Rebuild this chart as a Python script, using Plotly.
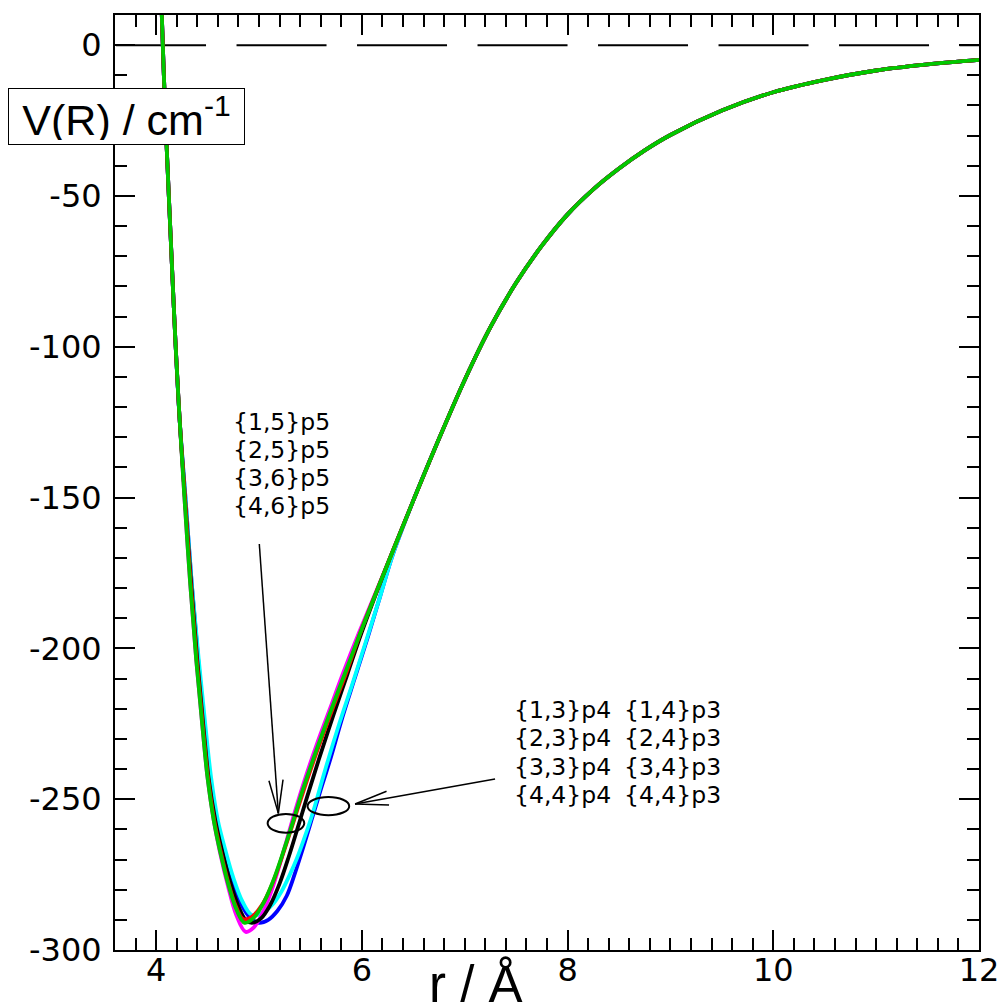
import math
import plotly.graph_objects as go

# ---------------- data ----------------
# shared repulsive wall (upper part) for all curves
WALL_X = [4.040, 4.055, 4.075, 4.100, 4.130, 4.160, 4.190, 4.230]
WALL_Y = [25, 10, -10, -32, -55, -78, -100, -125]

# shared long-range tail for all curves
TAIL_X = [6.5, 6.75, 7.0, 7.25, 7.5, 7.75, 8.0, 8.25, 8.5, 8.75, 9.0, 9.5,
          10.0, 10.5, 11.0, 11.5, 12.0]
TAIL_Y = [-151, -130.5, -111, -93.5, -78.8, -66.5, -56.1, -47.8, -40.9, -34.9, -29.8,
          -21.7, -15.6, -11.5, -8.4, -6.4, -4.9]

# well region, one pair of arrays per curve
BLUE_X = [4.285, 4.345, 4.41, 4.47, 4.525, 4.59, 4.66, 4.74, 4.83, 4.92, 5.00,
          5.09, 5.18, 5.27, 5.35, 5.43, 5.51, 5.59, 5.70, 5.81, 5.93, 6.06, 6.18, 6.30]
BLUE_Y = [-150, -178, -204, -226, -243, -257, -267, -277, -285, -289.5, -291,
          -290, -287, -282, -274.5, -266, -257, -248, -236, -223, -210, -196, -182.5, -169]

CYAN_X = [4.285, 4.345, 4.415, 4.48, 4.535, 4.60, 4.67, 4.75, 4.84, 4.93, 5.03,
          5.13, 5.22, 5.30, 5.37, 5.44, 5.50, 5.545, 5.65, 5.78, 5.92, 6.06, 6.18, 6.30]
CYAN_Y = [-150, -178, -204, -226, -243, -257, -266.5, -276, -284, -288.4, -287.8,
          -285, -280.5, -275, -269.5, -263, -257, -252, -239.5, -225, -210.5, -195.5, -182.5, -169]

MAGENTA_X = [4.275, 4.33, 4.39, 4.45, 4.50, 4.56, 4.62, 4.70, 4.78, 4.87, 4.95,
             5.03, 5.11, 5.19, 5.27, 5.35, 5.45, 5.56, 5.69, 5.82, 5.97, 6.25]
MAGENTA_Y = [-150, -178, -204, -226, -243, -257, -267.5, -279, -288.5, -294, -292.5,
             -288, -281.5, -273, -263.5, -254, -243, -232, -220, -208, -195, -172]

BLACK_X = [4.28, 4.34, 4.40, 4.46, 4.51, 4.575, 4.64, 4.72, 4.80, 4.87, 4.93,
           5.02, 5.11, 5.20, 5.29, 5.385, 5.47, 5.58, 5.72, 5.86, 6.00, 6.25]
BLACK_Y = [-150, -178, -204, -226, -243, -257, -267, -277.5, -285.5, -290, -291,
           -289.5, -285, -278, -269, -258.5, -249, -237, -222.5, -208.5, -194.5, -172]

RED_X = [4.28, 4.335, 4.395, 4.455, 4.505, 4.565, 4.625, 4.70, 4.775, 4.845, 4.93,
         5.03, 5.13, 5.24, 5.34, 5.44, 5.56, 5.71, 5.86, 6.00, 6.25]
RED_Y = [-150, -178, -204, -226, -243, -257, -267, -277.5, -285.5, -289.7, -289,
         -285, -278, -267.5, -257, -246.5, -234.5, -220.5, -207, -193.5, -172]

GREEN_X = [4.275, 4.33, 4.39, 4.45, 4.50, 4.56, 4.62, 4.70, 4.78, 4.86, 4.95,
           5.05, 5.15, 5.25, 5.33, 5.42, 5.545, 5.70, 5.85, 6.00, 6.25]
GREEN_Y = [-150, -178, -204, -226, -243, -257, -267, -278, -286.5, -291, -289.3,
           -284, -276, -266, -257.5, -247.5, -235, -220.5, -207, -193.5, -172]

ZERO_X = [3.61, 12.0]
ZERO_Y = [0, 0]

X_TICKS = [4, 6, 8, 10, 12]
Y_TICKS = [0, -50, -100, -150, -200, -250, -300]

LABELS_P5 = ["{1,5}p5", "{2,5}p5", "{3,6}p5", "{4,6}p5"]
LABELS_P4 = ["{1,3}p4", "{2,3}p4", "{3,3}p4", "{4,4}p4"]
LABELS_P3 = ["{1,4}p3", "{2,4}p3", "{3,4}p3", "{4,4}p3"]

# ---------------- figure ----------------
W, H = 1001, 1004
ML, MR, MT, MB = 115, 22, 15, 54
XR = [3.6, 12.0]
YR = [-300, 10]
PW = W - ML - MR
PH = H - MT - MB
SX = PW / (XR[1] - XR[0])
SY = PH / (YR[1] - YR[0])

fig = go.Figure()
fig.add_trace(go.Scatter(x=ZERO_X, y=ZERO_Y, mode="lines",
                         line=dict(color="black", width=2, dash="90px,30.5px"),
                         hoverinfo="skip", showlegend=False))

curves = [
    (BLUE_X, BLUE_Y, "#0000ff"),
    (CYAN_X, CYAN_Y, "#00ffff"),
    (MAGENTA_X, MAGENTA_Y, "#ff00ff"),
    (BLACK_X, BLACK_Y, "#000000"),
    (RED_X, RED_Y, "#ff0000"),
    (GREEN_X, GREEN_Y, "#00c800"),
]
for cx, cy, col in curves:
    fig.add_trace(go.Scatter(
        x=WALL_X + cx + TAIL_X, y=WALL_Y + cy + TAIL_Y, mode="lines",
        line=dict(color=col, width=3.8, shape="spline", smoothing=1.0),
        showlegend=False, hoverinfo="skip"))

# arrows (tail -> tip) and ellipses, in data units
ARROWS = [((5.003, -165.4), (5.188, -254.7)),
          ((7.295, -243.3), (5.934, -251.6))]
ELLIPSES = [(5.084, 5.440, -261.1, -254.9),
            (5.472, 5.877, -255.3, -249.3)]

shapes = []
for (tx, ty), (hx, hy) in ARROWS:
    shapes.append(dict(type="line", xref="x", yref="y", x0=tx, y0=ty, x1=hx, y1=hy,
                       line=dict(color="black", width=1.5)))
    dx = (tx - hx) * SX
    dy = (ty - hy) * SY
    ang = math.atan2(dy, dx)
    for s in (1, -1):
        a = ang + s * math.radians(12)
        L = 34
        shapes.append(dict(type="line", xref="x", yref="y", x0=hx, y0=hy,
                           x1=hx + L * math.cos(a) / SX, y1=hy + L * math.sin(a) / SY,
                           line=dict(color="black", width=1.5)))
for x0, x1, y0, y1 in ELLIPSES:
    shapes.append(dict(type="circle", xref="x", yref="y", x0=x0, x1=x1, y0=y0, y1=y1,
                       line=dict(color="black", width=2)))

ann_font = dict(family="DejaVu Sans", size=23.5, color="black")
# label blocks: (x, first line y, line step) in data units
BLOCKS = [(LABELS_P5, 4.727, -124.9, -9.3),
          (LABELS_P4, 7.457, -220.4, -9.4),
          (LABELS_P3, 8.527, -220.4, -9.4)]
annotations = []
for labels, bx, by, step in BLOCKS:
    for i, lab in enumerate(labels):
        annotations.append(dict(x=bx, y=by + i * step, xref="x", yref="y", text=lab,
                                showarrow=False, xanchor="left", yanchor="middle",
                                font=ann_font))

annotations += [
    dict(x=(126.5 - ML) / PW, y=(MT + PH - 116.5) / PH,
         xref="paper", yref="paper", text="V(R) / cm<sup>-1</sup>",
         showarrow=False, xanchor="center", yanchor="middle",
         font=dict(family="Liberation Sans", size=43, color="black"),
         bgcolor="white", bordercolor="black", borderwidth=1, borderpad=4,
         width=227, height=47),
    dict(x=(476 - ML) / PW, y=(MT + PH - 985) / PH,
         xref="paper", yref="paper", text="r / Å",
         showarrow=False, xanchor="center", yanchor="middle",
         font=dict(family="Liberation Sans", size=51, color="black")),
]

tick_font = dict(family="DejaVu Sans", size=32, color="black")
axis_common = dict(showline=True, linecolor="black", linewidth=2, mirror="ticks",
                   ticks="inside", ticklen=20, tickwidth=2, tickcolor="black",
                   showgrid=False, zeroline=False, tickfont=tick_font, automargin=False)

fig.update_layout(
    width=W, height=H, margin=dict(l=ML, r=MR, t=MT, b=MB, autoexpand=False),
    paper_bgcolor="white", plot_bgcolor="white",
    showlegend=False, shapes=shapes, annotations=annotations,
    xaxis=dict(range=XR, tickvals=X_TICKS, ticktext=[str(v) for v in X_TICKS],
               minor=dict(dtick=0.2, tick0=0, ticks="inside", ticklen=12,
                          tickwidth=2, tickcolor="black", showgrid=False),
               ticklabelstandoff=-9, **axis_common),
    yaxis=dict(range=YR, tickvals=Y_TICKS, ticktext=[str(v) for v in Y_TICKS],
               minor=dict(dtick=10, tick0=0, ticks="inside", ticklen=12,
                          tickwidth=2, tickcolor="black", showgrid=False),
               ticklabelstandoff=5, **axis_common),
)

fig.write_html("out.html",
               config={"displayModeBar": False},
               post_script="document.body.style.margin='0px';"
                           "document.body.style.overflow='hidden';")
